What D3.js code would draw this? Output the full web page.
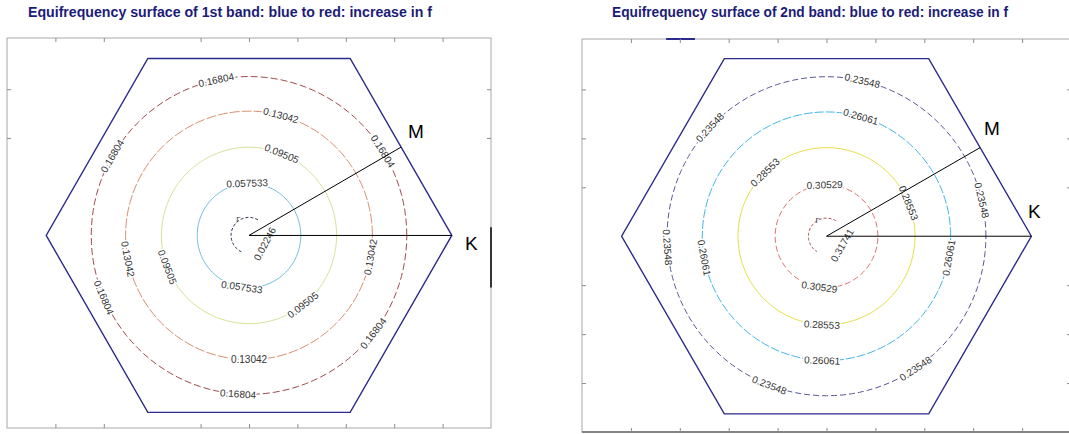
<!DOCTYPE html>
<meta charset="utf-8">
<style>
body { margin: 0; background: #fff; }
svg { font-family: Arial, "Liberation Sans", sans-serif; }
.frame { fill: none; stroke: #a8a8a8; stroke-width: 1px; }
.ticks line { stroke: #8c8c8c; stroke-width: 1px; }
.ticks path { display: none; }
.hex { fill: none; stroke: #2b2b8c; stroke-width: 1.4px; }
.kline { stroke: #000; stroke-width: 1px; }
.contour { fill: none; stroke-width: 1px; }
.clabel { font-size: 10px; fill: #333; stroke: #fff; stroke-width: 3px; paint-order: stroke; }
.title { font-size: 14px; font-weight: bold; fill: #1c1c78; }
.sym { font-size: 19px; fill: #000; }
.gamma { font-size: 8px; fill: #333; }
</style>
<body>
<svg width="1069" height="434"></svg>
<script src="https://d3js.org/d3.v7.min.js"></script>
<script>

var titles = ["Equifrequency surface of 1st band: blue to red: increase in f",
              "Equifrequency surface of 2nd band: blue to red: increase in f"];

// contour levels (inner -> outer) and their radius in k units
var levels1 = [0.02246, 0.057533, 0.09505, 0.13042, 0.16804];
var radii1  = [0.37, 1.07, 1.81, 2.55, 3.26];
var levels2 = [0.31741, 0.30529, 0.28553, 0.26061, 0.23548];
var radii2  = [0.37, 1.05, 1.81, 2.54, 3.26];

// where along each contour the inline labels sit (degrees)
var labelAngles1 = [[-28], [92, 262], [68, 201, -52], [75, 191, -10, 270], [102, 32, 150, 203, 266, -38]];
var labelAngles2 = [[-30], [92, 262], [134, 22, 267], [74, 190, -10, 268], [77, 137, 13, 184, 249, -56]];

// first Brillouin zone (hexagon) and symmetry points
var hexX = [4.19, 2.09, -2.09, -4.19, -2.09, 2.09];
var hexY = [0, 3.63, 3.63, 0, -3.63, -3.63];
var symPoints = [{name: "M", x: 3.14, y: 1.81}, {name: "K", x: 4.19, y: 0}];

var xTicks1 = [-4, -3, -1, 0, 1, 2, 3, 4];
var yTicks1 = [3, 2];
var xTicks2 = [-4, -3, -2, -1, 0, 1, 2, 3, 4];
var yTicks2 = [3, 2, 1, -1, -2, -3];

var svg = d3.select("svg");

var panels = [
  {title: titles[0], levels: levels1, radii: radii1, angles: labelAngles1,
   xt: xTicks1, yt: yTicks1,
   x: d3.scaleLinear().domain([-5, 5]).range([7, 491]),
   y: d3.scaleLinear().domain([-3.95, 4.05]).range([428, 38]),
   tx: 28, tw: 404,
   colors: ["#20204a", "#72bde0", "#d2e49c", "#d8906e", "#9c4c4a"],
   dashes: ["3,2", null, null, "10,2", "7,3"],
   arc: [60, 250], gamma: [-0.22, 0.28],
   mLabel: [408, 138], kLabel: [465, 250]},
  {title: titles[1], levels: levels2, radii: radii2, angles: labelAngles2,
   xt: xTicks2, yt: yTicks2,
   x: d3.scaleLinear().domain([-5, 5]).range([582, 1071]),
   y: d3.scaleLinear().domain([-4, 4.03]).range([432, 39]),
   tx: 612, tw: 396,
   colors: ["#a44848", "#e26c6c", "#e6df48", "#46b6e6", "#58589c"],
   dashes: ["3,2", "6,3", null, "9,2", "6,3"],
   arc: [58, 240], gamma: [-0.18, 0.28],
   mLabel: [984, 135], kLabel: [1028, 218]}
];

panels.forEach(function(p, pi) {
  var g = svg.append("g");
  var x = p.x, y = p.y;
  var x0 = x.domain()[0], x1 = x.domain()[1];
  var y0 = y.domain()[0], y1 = y.domain()[1];

  g.append("text").attr("class", "title")
    .attr("x", p.tx).attr("y", 17)
    .attr("textLength", p.tw).attr("lengthAdjust", "spacingAndGlyphs")
    .text(p.title);

  g.append("rect").attr("class", "frame")
    .attr("x", x(x0)).attr("y", y(y1))
    .attr("width", x(x1) - x(x0)).attr("height", y(y0) - y(y1));
  if (pi === 1) {
    g.append("line").attr("x1", x(x0)).attr("x2", x(x1))
      .attr("y1", y(y0)).attr("y2", y(y0))
      .attr("stroke", "#6a6a6a").attr("stroke-width", 1.5);
    g.append("line").attr("x1", x(-3.28)).attr("x2", x(-2.69))
      .attr("y1", y(y1)).attr("y2", y(y1))
      .attr("stroke", "#2b2b8c").attr("stroke-width", 2);
  } else {
    g.append("line").attr("x1", x(x1)).attr("x2", x(x1))
      .attr("y1", y(0.17)).attr("y2", y(-1.07))
      .attr("stroke", "#000").attr("stroke-width", 1.5);
  }

  g.append("g").attr("class", "ticks").attr("transform", "translate(0," + y(y1) + ")")
    .call(d3.axisTop(x).tickValues(p.xt).tickSize(-4).tickFormat(""));
  g.append("g").attr("class", "ticks").attr("transform", "translate(0," + y(y0) + ")")
    .call(d3.axisBottom(x).tickValues(p.xt).tickSize(-4).tickFormat(""));
  g.append("g").attr("class", "ticks").attr("transform", "translate(" + x(x0) + ",0)")
    .call(d3.axisLeft(y).tickValues(p.yt).tickSize(-4).tickFormat(""));
  g.append("g").attr("class", "ticks").attr("transform", "translate(" + x(x1) + ",0)")
    .call(d3.axisRight(y).tickValues(p.yt).tickSize(-4).tickFormat(""));

  // hexagon
  var hex = hexX.map(function(v, i) { return [x(v), y(hexY[i])]; });
  g.append("path").attr("class", "hex")
    .attr("d", d3.line()(hex) + "Z");

  // contours
  var line = d3.line().curve(d3.curveLinearClosed);
  var arcLine = d3.line();
  p.radii.forEach(function(r, i) {
    var pts, path;
    if (i === 0) {
      pts = d3.range(p.arc[0], p.arc[1] + 1, 3).map(function(a) {
        var t = a * Math.PI / 180;
        return [x(r * Math.cos(t)), y(r * Math.sin(t))];
      });
      path = arcLine(pts);
    } else {
      pts = d3.range(0, 360, 3).map(function(a) {
        var t = a * Math.PI / 180;
        return [x(r * Math.cos(t)), y(r * Math.sin(t))];
      });
      path = line(pts);
    }
    g.append("path").attr("class", "contour")
      .attr("d", path)
      .attr("stroke", p.colors[i])
      .attr("stroke-dasharray", p.dashes[i]);
  });

  // inline labels
  p.radii.forEach(function(r, i) {
    p.angles[i].forEach(function(a) {
      var t = a * Math.PI / 180;
      var px = x(r * Math.cos(t)), py = y(r * Math.sin(t));
      var rot = 90 - a;
      while (rot > 90) rot -= 180;
      while (rot <= -90) rot += 180;
      g.append("text").attr("class", "clabel")
        .attr("transform", "translate(" + px + "," + py + ") rotate(" + rot + ")")
        .attr("text-anchor", "middle").attr("dy", "0.35em")
        .text(String(p.levels[i]));
    });
  });

  g.append("text").attr("class", "gamma")
    .attr("x", x(p.gamma[0])).attr("y", y(p.gamma[1]))
    .attr("text-anchor", "middle").text("\u0393");

  // Gamma -> M, Gamma -> K
  symPoints.forEach(function(s) {
    g.append("line").attr("class", "kline")
      .attr("x1", x(0)).attr("y1", y(0))
      .attr("x2", x(s.x)).attr("y2", y(s.y));
  });
  g.append("text").attr("class", "sym").attr("x", p.mLabel[0]).attr("y", p.mLabel[1]).text("M");
  g.append("text").attr("class", "sym").attr("x", p.kLabel[0]).attr("y", p.kLabel[1]).text("K");
});

</script>
</body>
